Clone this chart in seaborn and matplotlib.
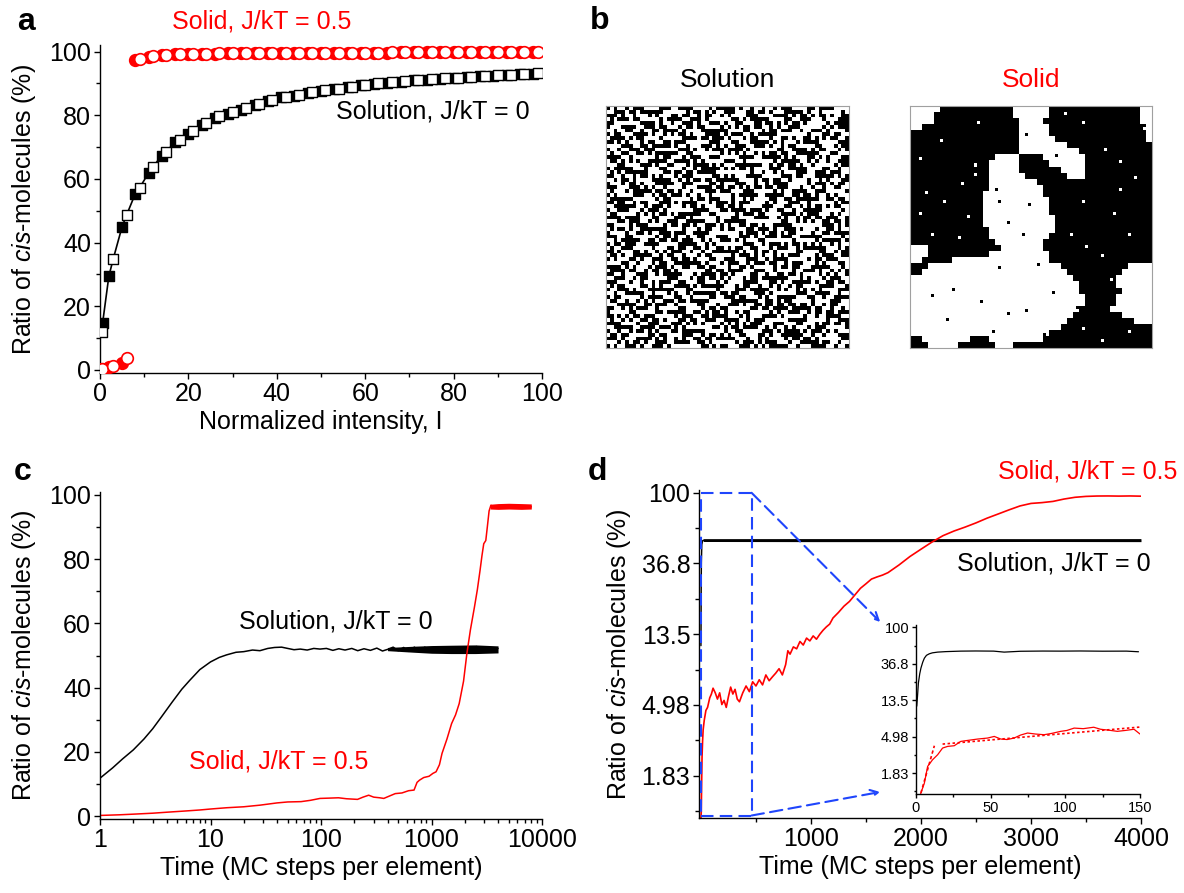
import numpy as np
import matplotlib
matplotlib.use("Agg")
import matplotlib.pyplot as plt
import seaborn as sns
from matplotlib.colors import ListedColormap
from matplotlib.patches import Rectangle
from matplotlib.ticker import FixedLocator, NullFormatter, MultipleLocator, LogLocator

sns.set_theme(style="ticks")
plt.rcParams["font.family"] = ["Liberation Sans", "DejaVu Sans"]
plt.rcParams["mathtext.fontset"] = "custom"
plt.rcParams["mathtext.rm"] = "Liberation Sans"
plt.rcParams["mathtext.it"] = "Liberation Sans:italic"
for key in ("text.color", "axes.labelcolor", "xtick.color", "ytick.color", "axes.edgecolor"):
    plt.rcParams[key] = "black"

RED = "#ff0000"
BLUE = "#1f45fc"

# ---------- panel a: steady state vs intensity ----------
sol_fill_x = [0.6, 2, 5, 8, 11, 14, 17, 20, 23, 26, 29, 32, 35, 38, 41, 44, 47, 50, 53,
              56, 59, 62, 65, 68, 71, 74, 77, 80, 83, 86, 89, 92, 95, 98]
sol_fill_y = [14.8, 29.4, 45.0, 55.4, 61.9, 67.3, 71.6, 74.2, 76.8, 79.1, 80.5, 81.8, 83.2,
              84.4, 85.6, 86.0, 87.0, 87.6, 88.2, 88.8, 89.4, 89.8, 90.2, 90.6, 91.0, 91.2,
              91.5, 91.7, 92.0, 92.2, 92.5, 92.7, 92.9, 93.1]
sol_open_x = [0.4, 3, 6, 9, 12, 15, 18, 21, 24, 27, 30, 33, 36, 39, 42, 45, 48, 51, 54,
              57, 60, 63, 66, 69, 72, 75, 78, 81, 84, 87, 90, 93, 96, 99]
sol_open_y = [11.8, 34.9, 48.6, 57.3, 63.9, 68.6, 72.3, 75.2, 77.5, 79.7, 81.0, 82.3, 83.7,
              84.8, 85.8, 86.3, 87.2, 87.8, 88.4, 89.0, 89.6, 90.0, 90.4, 90.8, 91.1, 91.3,
              91.6, 91.8, 92.1, 92.3, 92.6, 92.8, 93.0, 93.2]

solid_fill_x = [0.5, 2, 5, 8, 11, 14, 17, 20, 23, 26, 29, 32, 35, 38, 41, 44, 47, 50, 53,
                56, 59, 62, 65, 68, 71, 74, 77, 80, 83, 86, 89, 92, 95, 98]
solid_fill_y = [0.2, 1.0, 2.3, 97.3, 98.4, 98.9, 99.2, 99.3, 99.4, 99.4, 99.5, 99.5, 99.5,
                99.6, 99.6, 99.6, 99.6, 99.7, 99.7, 99.7, 99.7, 99.7, 99.7, 99.8, 99.8, 99.8,
                99.8, 99.8, 99.8, 99.8, 99.9, 99.9, 99.9, 99.9]
solid_open_x = [0.5, 3, 6, 9, 12, 15, 18, 21, 24, 27, 30, 33, 36, 39, 42, 45, 48, 51, 54,
                57, 60, 63, 66, 69, 72, 75, 78, 81, 84, 87, 90, 93, 96, 99]
solid_open_y = [0.3, 1.3, 3.7, 97.8, 98.6, 99.0, 99.3, 99.4, 99.4, 99.5, 99.5, 99.5, 99.6,
                99.6, 99.6, 99.6, 99.7, 99.7, 99.7, 99.7, 99.7, 99.7, 99.8, 99.8, 99.8, 99.8,
                99.8, 99.8, 99.9, 99.9, 99.9, 99.9, 99.9, 99.9]

# ---------- panel b: lattice snapshots ----------
solution_rows = [
    "a5c39e17d24b86f0", "3b7e05a9c6d1f482", "e9146cb2870f5ad3", "5d82f3a06be19c47",
    "c07a4e9d31b5682f", "8f3b16c2ad94e057", "264de87f0c5b93a1", "b1e95a3d72f8046c",
    "7ac20f6e8b134d59", "d459b81c63ea2f07", "0e6fa47539d2c18b", "93b81d2ef4067ac5",
    "4cd7e602a95b3f18", "f2058b9c1e7d46a3", "6a9f3d41c80be527", "1874c5ea3f96d20b",
    "be23097d5a1cf864", "57e1b6f8024a39dc", "c96a2e0d4783b1f5", "2d0f95b7e16c84a3",
    "8b47ce1a392f05d6", "e3a908f6d5b7124c", "45f6d23b8e0a79c1", "a1cb74905f3e6d28",
    "7e0582dc4a19bf36", "d963af175c28e40b", "3f2e8b46d07195ac", "9c5d01e37ba64f82",
    "60ab5f982ec3d714", "f78c3a0461e52db9", "1b94e7c5f8032a6d", "c2e16d3a9b4f8075",
    "5a7f08b2c6e9d134", "84d3b9e0175ac26f", "e605a4c71d3b9f82", "2f9b6e53a8c0417d",
    "b73c1f280e5d6a94", "4e08d9a6b3172fc5", "d1a5724fe96830cb", "69f2c8b05d4ae173",
    "a34e6d19c72f05b8", "0c8b3fa2e5d97146", "f5174cd89a0b63e2", "7b2da036f1c84e95",
    "c8e5f17b4326d0a9", "3960e2da8b7f145c", "e24b98c50f1a7d36", "586a3d7e2c94b0f1",
    "9d1fc6043be52a87", "27c8a5fb61d039e4", "b05e3219d8a7c64f", "64a9dbe07f35821c",
    "1f3720c4e9b6da58", "cae4185b036f7d92", "8306f9ad2c14e5b7", "d5b82e6f147a093c",
    "4a6d1b39e5c0f827", "f09c7542ab8e316d", "3e7ba80d6f2945c1", "92d46fc13075eba8",
    "6c1b0e5a98d3f247", "e8f529b7c4a16d03", "15a73cd02eb89f64", "a74e806b1d5f23c9",
]

# white runs (column ranges, 40 columns) for each of 40 rows of the solid snapshot
solid_white_runs = [
    [(0, 4), (17, 22), (38, 39)], [(0, 3), (17, 22), (38, 39)], [(0, 3), (18, 21), (38, 39)],
    [(0, 1), (18, 22), (39, 39)], [(18, 22), (39, 39)], [(18, 23), (39, 39)],
    [(18, 25)], [(18, 27)], [(14, 17), (22, 28)], [(13, 17), (23, 28)],
    [(13, 17), (25, 28)], [(13, 18), (26, 28)], [(13, 20)], [(13, 21)], [(12, 21)],
    [(12, 22)], [(12, 22)], [(12, 22)], [(12, 23)], [(12, 23)], [(13, 23)], [(13, 22)],
    [(14, 21)], [(0, 2), (15, 21)], [(0, 2), (13, 22)], [(0, 1), (7, 22)],
    [(3, 24), (36, 39)], [(2, 25), (35, 39)], [(0, 26), (34, 39)], [(0, 27), (34, 39)],
    [(0, 27), (35, 39)], [(0, 28), (34, 39)], [(0, 28), (34, 39)], [(0, 27), (33, 39)],
    [(0, 26), (35, 39)], [(0, 25), (37, 39)], [(0, 24)], [(0, 22)], [(2, 9), (13, 21)],
    [(3, 7), (14, 16)],
]
# isolated flipped sites (row, col) on the 80x80 lattice
solid_specks = [
    (5, 22), (17, 3), (19, 21), (25, 17), (31, 11), (35, 3), (36, 19), (42, 7), (43, 16),
    (22, 21), (14, 64), (18, 69), (23, 74), (31, 57), (35, 67), (42, 53), (42, 72),
    (49, 63), (7, 77), (2, 51), (5, 57), (27, 69), (73, 57), (77, 63), (74, 72),
    (31, 29), (38, 32), (42, 37), (32, 39), (27, 28), (62, 7), (60, 14), (64, 23),
    (68, 32), (67, 38), (75, 44), (70, 12), (74, 27), (61, 47), (53, 29), (52, 42),
    (9, 38), (16, 48), (46, 58), (11, 10), (57, 66), (66, 55), (28, 5),
]

# ---------- panel c: kinetics on log time ----------
sol_c_t = [1, 1.3, 1.6, 2, 2.5, 3, 3.6, 4.5, 5.5, 6.5, 8, 10, 12, 14, 17, 20, 24, 28, 33,
           38, 44, 50, 57, 65, 75, 86, 98, 112, 128, 145, 165, 190, 215, 245, 280, 320,
           360, 400, 450, 500, 560, 620, 700, 780, 870, 970, 1080, 1200, 1340, 1490,
           1660, 1850, 2060, 2300, 2560, 2850, 3180, 3550, 4000]
sol_c_y = [11.8, 15.0, 17.8, 20.6, 24.0, 27.2, 30.9, 35.5, 39.5, 42.3, 45.6, 48.0, 49.4,
           50.2, 51.0, 51.2, 51.7, 51.5, 52.2, 52.5, 52.6, 52.2, 51.8, 52.0, 51.7, 52.2,
           52.0, 52.2, 51.6, 52.1, 51.7, 52.2, 51.5, 52.1, 51.6, 52.3, 51.4, 51.9, 52.6,
           51.5, 52.5, 51.3, 52.6, 51.3, 52.6, 51.2, 52.7, 51.2, 52.6, 51.3, 52.7, 51.2,
           52.6, 51.3, 52.8, 51.2, 52.6, 51.4, 52.2]
sol_c_band_t = [400, 700, 1000, 1500, 2500, 4000]
sol_c_band_lo = [51.5, 51.0, 50.7, 50.6, 50.6, 50.8]
sol_c_band_hi = [52.5, 52.9, 53.1, 53.2, 53.3, 53.0]

solid_c_t = [1, 1.5, 2, 3, 4, 6, 8, 10, 14, 20, 28, 40, 50, 66, 80, 98, 120, 144, 170,
             214, 240, 270, 300, 340, 370, 420, 470, 540, 620, 695, 740, 780, 850, 950,
             1030, 1100, 1180, 1245, 1380, 1520, 1650, 1780, 1950, 2090, 2250, 2445, 2600,
             2750, 2860, 2970, 3100, 3200, 3320, 3450, 3600, 4000, 5000, 6500, 8000]
solid_c_y = [0.2, 0.4, 0.6, 0.9, 1.2, 1.6, 1.9, 2.2, 2.6, 2.9, 3.4, 4.1, 4.4, 4.5, 4.9,
             5.5, 5.6, 5.7, 5.4, 5.2, 5.9, 6.5, 5.9, 5.7, 5.5, 6.3, 7.0, 7.2, 7.9, 8.1,
             10.5, 11.2, 12.0, 12.4, 13.3, 13.8, 16.0, 19.5, 24.0, 28.8, 31.5, 35.0, 42.0,
             50.6, 58.0, 65.0, 70.5, 76.5, 81.0, 84.8, 85.8, 90.0, 95.0, 96.8, 96.2, 96.5,
             96.3, 96.4, 96.3]
solid_c_band_t = [3400, 4000, 5000, 6500, 8000]
solid_c_band_lo = [95.6, 95.5, 95.6, 95.5, 95.6]
solid_c_band_hi = [97.1, 97.3, 97.4, 97.3, 97.2]

# ---------- panel d: kinetics on linear time, ln-scaled ratio ----------
ln_ticks = [1.83, 4.98, 13.5, 36.8, 100]
ln_minor = [1.11, 3.02, 8.2, 22.3, 60.7]

sol_d_t = [0, 1, 2, 4, 8, 15, 30, 4000]
sol_d_y = [11.5, 15.0, 24.0, 37.0, 48.0, 50.8, 51.2, 51.2]
sol_d_band_t = [20, 1000, 2000, 3000, 4000]
sol_d_band_lo = [50.2, 50.1, 50.1, 50.2, 50.1]
sol_d_band_hi = [52.1, 52.2, 52.2, 52.1, 52.2]

solid_d_t = [0, 3, 6, 10, 15, 20, 30, 45, 60, 80, 95, 110, 130, 150, 170, 190, 210, 230,
             250, 270, 290, 310, 330, 350, 380, 410, 440, 470, 500, 530, 560, 590, 620,
             650, 680, 710, 740, 770, 790, 810, 840, 870, 900, 930, 960, 990, 1020, 1050,
             1080, 1110, 1140, 1170, 1200, 1250, 1300, 1350, 1400, 1450, 1500, 1550, 1600,
             1650, 1700, 1800, 1900, 2000, 2100, 2200, 2300, 2400, 2500, 2600, 2700, 2800,
             2900, 3000, 3100, 3200, 3300, 3400, 3500, 3600, 3700, 3800, 3900, 4000]
solid_d_y = [1.0, 1.1, 1.6, 2.4, 3.0, 3.5, 4.0, 4.6, 4.8, 5.5, 5.8, 6.3, 5.9, 5.4, 5.9,
             5.0, 5.3, 4.8, 5.6, 6.4, 5.8, 6.2, 5.4, 5.2, 5.9, 6.5, 6.0, 6.9, 6.5, 7.1,
             6.6, 7.6, 7.0, 7.4, 7.8, 8.3, 7.6, 8.8, 10.7, 10.2, 11.3, 11.0, 12.2, 11.6,
             12.8, 12.3, 13.2, 12.6, 13.5, 14.3, 15.0, 15.6, 17.0, 18.4, 20.1, 21.5, 23.6,
             25.9, 27.6, 29.5, 30.4, 31.2, 32.3, 36.0, 40.6, 45.0, 49.8, 54.5, 58.2, 61.5,
             65.3, 69.8, 74.0, 78.5, 83.0, 86.0, 87.0, 88.5, 91.5, 93.8, 95.0, 95.5, 95.6,
             95.4, 95.6, 95.3]

zoom_t = [0, 460]
zoom_y = [1.04, 100]

# inset: first 150 steps
sol_in_t = [0.5, 1, 1.6, 2.5, 3.3, 4.5, 5.6, 7, 8.9, 11, 14.5, 20, 30, 40, 52, 59, 70,
            85, 97, 110, 125, 141, 149]
sol_in_y = [11.5, 15.0, 21.7, 28.0, 32.7, 38.5, 43.0, 46.5, 48.5, 49.8, 50.8, 51.5, 52.2,
            52.4, 52.2, 50.8, 52.0, 52.3, 52.2, 52.4, 52.1, 52.2, 51.3]
solid_in_t = [2, 3.3, 5.6, 7.8, 11.1, 14.5, 17.8, 21.2, 25.6, 30, 35, 41.2, 47.9, 52.4,
              56.8, 61, 65.7, 70, 74.7, 80, 85.8, 91, 96.9, 101, 105.9, 112, 119, 123.6,
              129, 134.8, 140, 146, 150]
solid_in_y = [0.9, 1.06, 1.39, 2.2, 2.64, 3.03, 3.64, 3.81, 3.88, 4.37, 4.5, 4.66, 4.79,
              5.01, 4.66, 4.6, 4.79, 5.2, 5.5, 5.35, 5.25, 5.45, 5.76, 5.9, 6.3, 6.2, 6.45,
              6.1, 5.95, 5.76, 5.9, 6.1, 5.35]
fit1_t = [3.3, 12.3]
fit1_y = [1.06, 3.88]
fit2_t = [17.8, 150]
fit2_y = [4.06, 6.48]

# ---------- layout helpers (pixels of a 1184x893 canvas) ----------
W, H = 1184, 893


def box(l, t, r, b):
    return [l / W, 1 - b / H, (r - l) / W, (b - t) / H]


def px(x, y):
    return x / W, 1 - y / H


def style(ax, fs=18, major=4.5, minor=2.6):
    sns.despine(ax=ax)
    for s in ("left", "bottom"):
        ax.spines[s].set_linewidth(1.0)
        ax.spines[s].set_color("black")
    ax.tick_params(which="major", direction="out", length=major, width=1,
                   labelsize=fs, color="black", labelcolor="black", pad=2)
    ax.tick_params(which="minor", direction="out", length=minor, width=1, color="black")


fig = plt.figure(figsize=(W / 100, H / 100), dpi=100)
fig.patch.set_facecolor("white")
ylab = "Ratio of $\\it{cis}$-molecules (%)"

# ---------- panel a ----------
ax_a = fig.add_axes(box(100, 45.3, 542, 373))
sns.lineplot(x=sol_fill_x + sol_open_x, y=sol_fill_y + sol_open_y, color="black",
             lw=1.2, estimator=None, sort=True, ax=ax_a)
sns.scatterplot(x=sol_fill_x, y=sol_fill_y, marker="s", s=62, color="black",
                edgecolor="black", linewidth=1, ax=ax_a, zorder=3)
sns.scatterplot(x=sol_open_x, y=sol_open_y, marker="s", s=62, facecolor="white",
                edgecolor="black", linewidth=1, ax=ax_a, zorder=4)
sns.scatterplot(x=solid_fill_x, y=solid_fill_y, marker="o", s=70, color=RED,
                edgecolor=RED, linewidth=1.2, ax=ax_a, zorder=3)
sns.scatterplot(x=solid_open_x, y=solid_open_y, marker="o", s=70, facecolor="white",
                edgecolor=RED, linewidth=1.2, ax=ax_a, zorder=4)
ax_a.set_xlim(0, 100)
ax_a.set_ylim(-1, 102)
ax_a.set_xticks(range(0, 101, 20))
ax_a.set_yticks(range(0, 101, 20))
ax_a.xaxis.set_minor_locator(MultipleLocator(10))
ax_a.yaxis.set_minor_locator(MultipleLocator(10))
style(ax_a)
ax_a.set_xlabel("Normalized intensity, I", fontsize=18, labelpad=3)
ax_a.set_ylabel(ylab, fontsize=18, labelpad=8)

# ---------- panel b ----------
lattice_cmap = ListedColormap(["white", "black"])
solution_grid = np.array([[int(b) for b in bin(int(r, 16))[2:].zfill(64)]
                          for r in solution_rows])
grid40 = np.ones((40, 40), dtype=int)
for r, runs in enumerate(solid_white_runs):
    for c0, c1 in runs:
        grid40[r, c0:c1 + 1] = 0
solid_grid = np.kron(grid40, np.ones((2, 2), dtype=int))
for r, c in solid_specks:
    solid_grid[r, c] = 1 - solid_grid[r, c]

for grid, l, r in ((solution_grid, 606, 849), (solid_grid, 910, 1152)):
    ax_b = fig.add_axes(box(l, 106, r, 348))
    sns.heatmap(grid, cmap=lattice_cmap, cbar=False, xticklabels=False,
                yticklabels=False, vmin=0, vmax=1, ax=ax_b)
    for sp in ax_b.spines.values():
        sp.set_visible(True)
        sp.set_color("#a0a0a0")
        sp.set_linewidth(0.8)
fig.text(*px(728, 80), "Solution", fontsize=19, ha="center", va="center")
fig.text(*px(1031, 80), "Solid", fontsize=19, ha="center", va="center", color=RED)

# ---------- panel c ----------
ax_c = fig.add_axes(box(100, 491.7, 542, 819.3))
ax_c.set_xscale("log")
ax_c.fill_between(sol_c_band_t, sol_c_band_lo, sol_c_band_hi, color="black", lw=0)
ax_c.fill_between(solid_c_band_t, solid_c_band_lo, solid_c_band_hi, color=RED, lw=0)
sns.lineplot(x=sol_c_t, y=sol_c_y, color="black", lw=1.1, estimator=None, sort=False, ax=ax_c)
sns.lineplot(x=solid_c_t, y=solid_c_y, color=RED, lw=1.1, estimator=None, sort=False, ax=ax_c)
ax_c.set_xlim(1, 10000)
ax_c.set_ylim(-1, 101)
ax_c.set_xticks([1, 10, 100, 1000, 10000])
ax_c.set_xticklabels(["1", "10", "100", "1000", "10000"])
ax_c.xaxis.set_minor_locator(LogLocator(base=10, subs=range(2, 10), numticks=20))
ax_c.xaxis.set_minor_formatter(NullFormatter())
ax_c.set_yticks(range(0, 101, 20))
ax_c.yaxis.set_minor_locator(MultipleLocator(10))
style(ax_c)
ax_c.set_xlabel("Time (MC steps per element)", fontsize=18, labelpad=3)
ax_c.set_ylabel(ylab, fontsize=18, labelpad=8)

# ---------- panel d ----------
ax_d = fig.add_axes(box(699.3, 490, 1141, 818.3))
ax_d.set_yscale("log")
ax_d.fill_between(sol_d_band_t, sol_d_band_lo, sol_d_band_hi, color="black", lw=0)
sns.lineplot(x=sol_d_t, y=sol_d_y, color="black", lw=1.0, estimator=None, sort=False, ax=ax_d)
sns.lineplot(x=solid_d_t, y=solid_d_y, color=RED, lw=1.2, estimator=None, sort=False, ax=ax_d)
ax_d.set_xlim(-15, 4000)
ax_d.set_ylim(1.0, 104)
ax_d.set_xticks([1000, 2000, 3000, 4000])
ax_d.xaxis.set_minor_locator(FixedLocator([500, 1500, 2500, 3500]))
ax_d.yaxis.set_major_locator(FixedLocator(ln_ticks))
ax_d.set_yticklabels([f"{v:g}" for v in ln_ticks])
ax_d.yaxis.set_minor_locator(FixedLocator(ln_minor))
ax_d.yaxis.set_minor_formatter(NullFormatter())
style(ax_d)
ax_d.set_xlabel("Time (MC steps per element)", fontsize=18, labelpad=3)
ax_d.set_ylabel(ylab, fontsize=18, labelpad=6)

dash = (0, (6, 3))
ax_d.add_patch(Rectangle((zoom_t[0], zoom_y[0]), zoom_t[1] - zoom_t[0], zoom_y[1] - zoom_y[0],
                         fill=False, edgecolor=BLUE, lw=1.5, ls=dash, clip_on=False, zorder=6))

# inset
ax_in = fig.add_axes(box(916, 625, 1140, 794))
ax_in.set_yscale("log")
sns.lineplot(x=sol_in_t, y=sol_in_y, color="black", lw=0.9, estimator=None, sort=False, ax=ax_in)
sns.lineplot(x=solid_in_t, y=solid_in_y, color=RED, lw=0.9, estimator=None, sort=False, ax=ax_in)
ax_in.plot(fit1_t, fit1_y, color=RED, lw=1.2, ls=(0, (2, 1.5)))
ax_in.plot(fit2_t, fit2_y, color=RED, lw=1.2, ls=(0, (1.5, 1.5)))
ax_in.set_xlim(0, 150)
ax_in.set_ylim(1.03, 107)
ax_in.set_xticks([0, 50, 100, 150])
ax_in.xaxis.set_minor_locator(FixedLocator([25, 75, 125]))
ax_in.yaxis.set_major_locator(FixedLocator(ln_ticks))
ax_in.set_yticklabels([f"{v:g}" for v in ln_ticks])
ax_in.yaxis.set_minor_locator(FixedLocator(ln_minor))
ax_in.yaxis.set_minor_formatter(NullFormatter())
style(ax_in, fs=10.5, major=3, minor=1.8)
ax_in.set_xlabel("")
ax_in.set_ylabel("")

for corner_y, tip in ((zoom_y[1], (-0.16, 1.018)), (zoom_y[0], (-0.16, 0.012))):
    ax_d.annotate("", xy=tip, xycoords=ax_in.transAxes, xytext=(zoom_t[1], corner_y),
                  textcoords="data",
                  arrowprops=dict(arrowstyle="->", color=BLUE, lw=1.5, ls=dash,
                                  shrinkA=0, shrinkB=0, mutation_scale=14))

# ---------- annotations ----------
fig.text(*px(262, 22), "Solid, J/kT = 0.5", fontsize=18, color=RED, ha="center", va="center")
fig.text(*px(433, 112), "Solution, J/kT = 0", fontsize=18, ha="center", va="center")
fig.text(*px(336, 621), "Solution, J/kT = 0", fontsize=18, ha="center", va="center")
fig.text(*px(279, 762), "Solid, J/kT = 0.5", fontsize=18, color=RED, ha="center", va="center")
fig.text(*px(1088, 472), "Solid, J/kT = 0.5", fontsize=18, color=RED, ha="center", va="center")
fig.text(*px(1054, 563), "Solution, J/kT = 0", fontsize=18, ha="center", va="center")

for lab, (x, y) in {"a": (26, 22), "b": (600, 21), "c": (23, 472), "d": (597, 472)}.items():
    fig.text(*px(x, y), lab, fontsize=23, fontweight="bold", ha="center", va="center")

fig.savefig("out.png", dpi=100)
